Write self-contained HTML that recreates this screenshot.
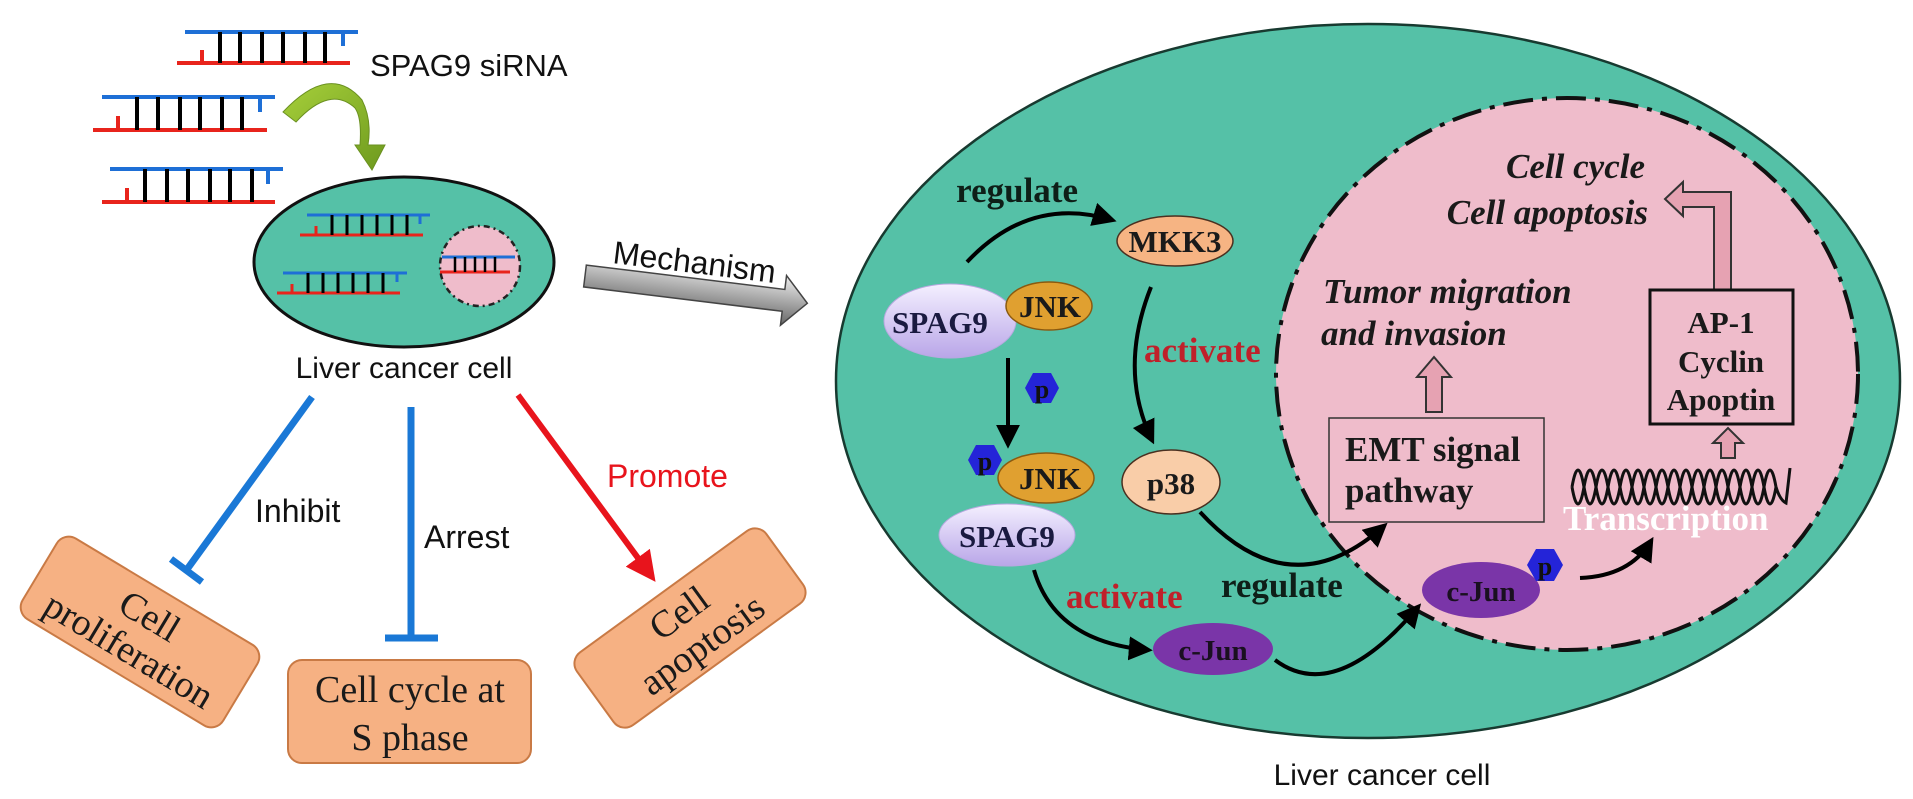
<!DOCTYPE html>
<html><head><meta charset="utf-8"><style>
html,body{margin:0;padding:0;background:#fff;}
svg{display:block;}
.sans{font-family:"Liberation Sans",Arial,sans-serif;}
.serif{font-family:"Liberation Serif","Times New Roman",serif;}
</style></head><body>
<svg width="1913" height="799" viewBox="0 0 1913 799" xmlns="http://www.w3.org/2000/svg">
<defs>
<marker id="blk" viewBox="0 0 10 10" refX="8" refY="5" markerWidth="6" markerHeight="6" orient="auto"><path d="M0,0 L10,5 L0,10 z" fill="#000"/></marker>
<marker id="red" viewBox="0 0 10 10" refX="8" refY="5" markerWidth="5" markerHeight="5" orient="auto"><path d="M0,0 L10,5 L0,10 z" fill="#e8141c"/></marker>
<linearGradient id="gray" x1="0" y1="0" x2="0" y2="1"><stop offset="0" stop-color="#eee"/><stop offset="0.5" stop-color="#aaa"/><stop offset="1" stop-color="#666"/></linearGradient>
<linearGradient id="lav" x1="0" y1="0" x2="0" y2="1"><stop offset="0" stop-color="#f4f0ff"/><stop offset="1" stop-color="#b9a6e8"/></linearGradient>
<linearGradient id="grn" x1="0" y1="0" x2="1" y2="1"><stop offset="0" stop-color="#a6cf3a"/><stop offset="1" stop-color="#6e9a1e"/></linearGradient>
</defs>

<!-- siRNA duplexes -->
<g stroke-width="4" fill="none">
 <line x1="185" y1="32" x2="358" y2="32" stroke="#1e6fd6"/><line x1="177" y1="63" x2="350" y2="63" stroke="#e8241c"/>
 <line x1="343" y1="32" x2="343" y2="46" stroke="#1e6fd6"/><line x1="202" y1="50" x2="202" y2="63" stroke="#e8241c"/>
 <g stroke="#000"><line x1="220" y1="32" x2="220" y2="63"/><line x1="240" y1="32" x2="240" y2="63"/><line x1="262" y1="32" x2="262" y2="63"/><line x1="283" y1="32" x2="283" y2="63"/><line x1="305" y1="32" x2="305" y2="63"/><line x1="325" y1="32" x2="325" y2="63"/></g>

 <line x1="102" y1="97" x2="275" y2="97" stroke="#1e6fd6"/><line x1="93" y1="130" x2="267" y2="130" stroke="#e8241c"/>
 <line x1="260" y1="97" x2="260" y2="112" stroke="#1e6fd6"/><line x1="118" y1="116" x2="118" y2="130" stroke="#e8241c"/>
 <g stroke="#000"><line x1="137" y1="97" x2="137" y2="130"/><line x1="158" y1="97" x2="158" y2="130"/><line x1="180" y1="97" x2="180" y2="130"/><line x1="200" y1="97" x2="200" y2="130"/><line x1="222" y1="97" x2="222" y2="130"/><line x1="242" y1="97" x2="242" y2="130"/></g>

 <line x1="110" y1="169" x2="283" y2="169" stroke="#1e6fd6"/><line x1="102" y1="202" x2="275" y2="202" stroke="#e8241c"/>
 <line x1="268" y1="169" x2="268" y2="184" stroke="#1e6fd6"/><line x1="127" y1="188" x2="127" y2="202" stroke="#e8241c"/>
 <g stroke="#000"><line x1="145" y1="169" x2="145" y2="202"/><line x1="167" y1="169" x2="167" y2="202"/><line x1="188" y1="169" x2="188" y2="202"/><line x1="210" y1="169" x2="210" y2="202"/><line x1="230" y1="169" x2="230" y2="202"/><line x1="252" y1="169" x2="252" y2="202"/></g>
</g>
<text x="370" y="76" class="sans" font-size="31" fill="#111">SPAG9 siRNA</text>

<!-- green curved arrow -->
<path d="M283,112 Q330,62 362,100 Q372,120 368,145 L385,145 L372,170 L355,145 L360,145 Q362,118 355,108 Q330,85 296,122 Z" fill="url(#grn)" stroke="#6a9020" stroke-width="1"/>

<!-- small cell -->
<ellipse cx="404" cy="262" rx="150" ry="85" fill="#55c1a7" stroke="#111" stroke-width="3"/>
<circle cx="480" cy="266" r="40" fill="#efbccb" stroke="#222" stroke-width="2.5" stroke-dasharray="6 4 2 4"/>
<g stroke-width="3">
 <line x1="307" y1="215" x2="430" y2="215" stroke="#1e6fd6"/><line x1="300" y1="235" x2="423" y2="235" stroke="#e8241c"/>
 <line x1="316" y1="226" x2="316" y2="235" stroke="#e8241c"/><line x1="420" y1="215" x2="420" y2="224" stroke="#1e6fd6"/>
 <g stroke="#000"><line x1="332" y1="215" x2="332" y2="235"/><line x1="347" y1="215" x2="347" y2="235"/><line x1="362" y1="215" x2="362" y2="235"/><line x1="377" y1="215" x2="377" y2="235"/><line x1="392" y1="215" x2="392" y2="235"/><line x1="407" y1="215" x2="407" y2="235"/></g>
 <line x1="283" y1="273" x2="407" y2="273" stroke="#1e6fd6"/><line x1="277" y1="293" x2="400" y2="293" stroke="#e8241c"/>
 <line x1="292" y1="284" x2="292" y2="293" stroke="#e8241c"/><line x1="397" y1="273" x2="397" y2="282" stroke="#1e6fd6"/>
 <g stroke="#000"><line x1="308" y1="273" x2="308" y2="293"/><line x1="323" y1="273" x2="323" y2="293"/><line x1="338" y1="273" x2="338" y2="293"/><line x1="353" y1="273" x2="353" y2="293"/><line x1="368" y1="273" x2="368" y2="293"/><line x1="383" y1="273" x2="383" y2="293"/></g>
 <line x1="442" y1="257" x2="515" y2="257" stroke="#1e6fd6"/><line x1="440" y1="272" x2="510" y2="272" stroke="#e8241c"/>
 <g stroke="#000" stroke-width="2.5"><line x1="455" y1="257" x2="455" y2="272"/><line x1="465" y1="257" x2="465" y2="272"/><line x1="475" y1="257" x2="475" y2="272"/><line x1="485" y1="257" x2="485" y2="272"/><line x1="495" y1="257" x2="495" y2="272"/></g>
</g>
<text x="404" y="378" text-anchor="middle" class="sans" font-size="30" fill="#111">Liver cancer cell</text>

<!-- Mechanism arrow -->
<g transform="translate(585,276) rotate(7)">
 <polygon points="0,-11 200,-11 200,-25 224,0 200,25 200,11 0,11" fill="url(#gray)" stroke="#444" stroke-width="1.5"/>
</g>
<text x="612" y="263" class="sans" font-size="32" fill="#111" transform="rotate(7 612 263)">Mechanism</text>

<!-- inhibit / arrest / promote -->
<g stroke="#1a78d6" stroke-width="7" fill="none">
 <line x1="312" y1="397" x2="188" y2="568"/>
 <line x1="171" y1="559" x2="202" y2="582"/>
 <line x1="411" y1="407" x2="411" y2="638"/>
 <line x1="385" y1="638" x2="438" y2="638"/>
</g>
<line x1="518" y1="395" x2="652" y2="577" stroke="#e8141c" stroke-width="6" marker-end="url(#red)"/>
<text x="255" y="522" class="sans" font-size="32" fill="#111">Inhibit</text>
<text x="424" y="548" class="sans" font-size="32" fill="#111">Arrest</text>
<text x="607" y="487" class="sans" font-size="32" fill="#e8141c">Promote</text>

<!-- outcome boxes -->
<g transform="translate(140,632) rotate(31)">
 <rect x="-117" y="-47" width="234" height="94" rx="14" fill="#f6b183" stroke="#c97a45" stroke-width="2"/>
 <text x="0" y="-6" text-anchor="middle" class="serif" font-size="38" fill="#1a1a1a">Cell</text>
 <text x="0" y="34" text-anchor="middle" class="serif" font-size="38" fill="#1a1a1a">proliferation</text>
</g>
<rect x="288" y="660" width="243" height="103" rx="14" fill="#f6b183" stroke="#c97a45" stroke-width="2"/>
<text x="410" y="702" text-anchor="middle" class="serif" font-size="38" fill="#1a1a1a">Cell cycle at</text>
<text x="410" y="750" text-anchor="middle" class="serif" font-size="38" fill="#1a1a1a">S phase</text>
<g transform="translate(690,628) rotate(-36)">
 <rect x="-117" y="-45" width="234" height="90" rx="14" fill="#f6b183" stroke="#c97a45" stroke-width="2"/>
 <text x="0" y="-6" text-anchor="middle" class="serif" font-size="38" fill="#1a1a1a">Cell</text>
 <text x="0" y="33" text-anchor="middle" class="serif" font-size="38" fill="#1a1a1a">apoptosis</text>
</g>

<!-- big cell -->
<ellipse cx="1368" cy="381" rx="532" ry="357" fill="#55c1a7" stroke="#183a30" stroke-width="2.5"/>
<ellipse cx="1567" cy="374" rx="291" ry="276" fill="#efbccb" stroke="#111" stroke-width="4" stroke-dasharray="30 9 5 9"/>
<text x="1382" y="785" text-anchor="middle" class="sans" font-size="30" fill="#111">Liver cancer cell</text>

<!-- arrows in big cell -->
<g stroke="#000" stroke-width="4" fill="none" marker-end="url(#blk)">
 <path d="M967,262 Q1030,195 1112,220"/>
 <path d="M1151,287 Q1118,370 1152,440"/>
 <path d="M1008,358 L1008,444"/>
 <path d="M1034,570 Q1055,642 1148,650"/>
 <path d="M1200,512 Q1290,610 1384,526"/>
 <path d="M1275,660 Q1335,705 1418,607"/>
 <path d="M1580,578 Q1630,576 1651,541"/>
</g>

<text x="1078" y="202" text-anchor="end" class="serif" font-size="35" font-weight="bold" fill="#0e1f18">regulate</text>
<text x="1144" y="362" class="serif" font-size="35" font-weight="bold" fill="#c0202a">activate</text>
<text x="1066" y="608" class="serif" font-size="35" font-weight="bold" fill="#c0202a">activate</text>
<text x="1221" y="597" class="serif" font-size="35" font-weight="bold" fill="#0e1f18">regulate</text>

<!-- nodes -->
<ellipse cx="1175" cy="241" rx="58" ry="25" fill="#f6b483" stroke="#4a3020" stroke-width="1.5"/>
<text x="1175" y="252" text-anchor="middle" class="serif" font-size="31" font-weight="bold" fill="#1a1a1a">MKK3</text>

<ellipse cx="950" cy="321" rx="66" ry="37" fill="url(#lav)" stroke="#b8a8e0" stroke-width="1"/>
<text x="940" y="333" text-anchor="middle" class="serif" font-size="31" font-weight="bold" fill="#1a1a40">SPAG9</text>
<ellipse cx="1049" cy="306" rx="43" ry="24" fill="#e0a030" stroke="#8a5a10" stroke-width="1.5"/>
<text x="1050" y="317" text-anchor="middle" class="serif" font-size="31" font-weight="bold" fill="#1a1a1a">JNK</text>

<polygon points="1025,388 1033,373 1051,373 1059,388 1051,403 1033,403" fill="#2424d8"/>
<text x="1042" y="398" text-anchor="middle" class="serif" font-size="26" font-weight="bold" fill="#111">p</text>

<ellipse cx="1007" cy="535" rx="68" ry="31" fill="url(#lav)" stroke="#b8a8e0" stroke-width="1"/>
<text x="1007" y="547" text-anchor="middle" class="serif" font-size="31" font-weight="bold" fill="#1a1a40">SPAG9</text>
<ellipse cx="1046" cy="478" rx="48" ry="25" fill="#e0a030" stroke="#8a5a10" stroke-width="1.5"/>
<text x="1050" y="489" text-anchor="middle" class="serif" font-size="31" font-weight="bold" fill="#1a1a1a">JNK</text>
<polygon points="968,460 976,445 994,445 1002,460 994,475 976,475" fill="#2424d8"/>
<text x="985" y="470" text-anchor="middle" class="serif" font-size="26" font-weight="bold" fill="#111">p</text>

<ellipse cx="1171" cy="482" rx="49" ry="32" fill="#f9cda8" stroke="#4a3020" stroke-width="1.5"/>
<text x="1171" y="494" text-anchor="middle" class="serif" font-size="31" font-weight="bold" fill="#1a1a1a">p38</text>

<ellipse cx="1213" cy="649" rx="60" ry="26" fill="#7a35a8"/>
<text x="1213" y="660" text-anchor="middle" class="serif" font-size="29" font-weight="bold" fill="#1a1020">c-Jun</text>

<ellipse cx="1481" cy="590" rx="59" ry="28" fill="#7a35a8"/>
<text x="1481" y="601" text-anchor="middle" class="serif" font-size="29" font-weight="bold" fill="#1a1020">c-Jun</text>
<polygon points="1527,565 1536,549 1554,549 1563,565 1554,581 1536,581" fill="#2424d8"/>
<text x="1545" y="575" text-anchor="middle" class="serif" font-size="26" font-weight="bold" fill="#111">p</text>

<!-- nucleus content -->
<text x="1323" y="303" class="serif" font-size="35" font-weight="bold" font-style="italic" fill="#1a1a1a">Tumor migration</text>
<text x="1321" y="345" class="serif" font-size="35" font-weight="bold" font-style="italic" fill="#1a1a1a">and invasion</text>
<polygon points="1426,412 1426,377 1417,377 1434,357 1451,377 1442,377 1442,412" fill="#e6a2b2" stroke="#333" stroke-width="2"/>

<rect x="1329" y="418" width="215" height="104" fill="none" stroke="#333" stroke-width="1.5"/>
<text x="1345" y="461" class="serif" font-size="35" font-weight="bold" fill="#1a1a1a">EMT signal</text>
<text x="1345" y="502" class="serif" font-size="35" font-weight="bold" fill="#1a1a1a">pathway</text>

<text x="1645" y="178" text-anchor="end" class="serif" font-size="35" font-weight="bold" font-style="italic" fill="#1a1a1a">Cell cycle</text>
<text x="1648" y="224" text-anchor="end" class="serif" font-size="35" font-weight="bold" font-style="italic" fill="#1a1a1a">Cell apoptosis</text>
<polygon points="1714,290 1714,207 1683,207 1683,216 1665,199 1683,182 1683,192 1731,192 1731,290" fill="#e6a2b2" stroke="#333" stroke-width="2"/>

<rect x="1650" y="290" width="143" height="134" fill="none" stroke="#111" stroke-width="3"/>
<text x="1721" y="333" text-anchor="middle" class="serif" font-size="31" font-weight="bold" fill="#1a1a1a">AP-1</text>
<text x="1721" y="372" text-anchor="middle" class="serif" font-size="31" font-weight="bold" fill="#1a1a1a">Cyclin</text>
<text x="1721" y="410" text-anchor="middle" class="serif" font-size="31" font-weight="bold" fill="#1a1a1a">Apoptin</text>
<polygon points="1721,458 1721,443 1713,443 1728,428 1743,443 1735,443 1735,458" fill="#e6a2b2" stroke="#333" stroke-width="2"/>

<!-- DNA helix -->
<g fill="none" stroke="#111" stroke-width="3">
 <path d="M1572,487 Q1578,453 1584,487 T1596,487 T1608,487 T1620,487 T1632,487 T1644,487 T1656,487 T1668,487 T1680,487 T1692,487 T1704,487 T1716,487 T1728,487 T1740,487 T1752,487 T1764,487 T1776,487"/>
 <path d="M1572,487 Q1578,521 1584,487 T1596,487 T1608,487 T1620,487 T1632,487 T1644,487 T1656,487 T1668,487 T1680,487 T1692,487 T1704,487 T1716,487 T1728,487 T1740,487 T1752,487 T1764,487 T1776,487"/>
 <path d="M1776,487 Q1780,500 1786,503 L1790,468"/>
</g>
<text x="1563" y="530" class="serif" font-size="35" font-weight="bold" fill="#ffffff">Transcription</text>
</svg>
</body></html>
